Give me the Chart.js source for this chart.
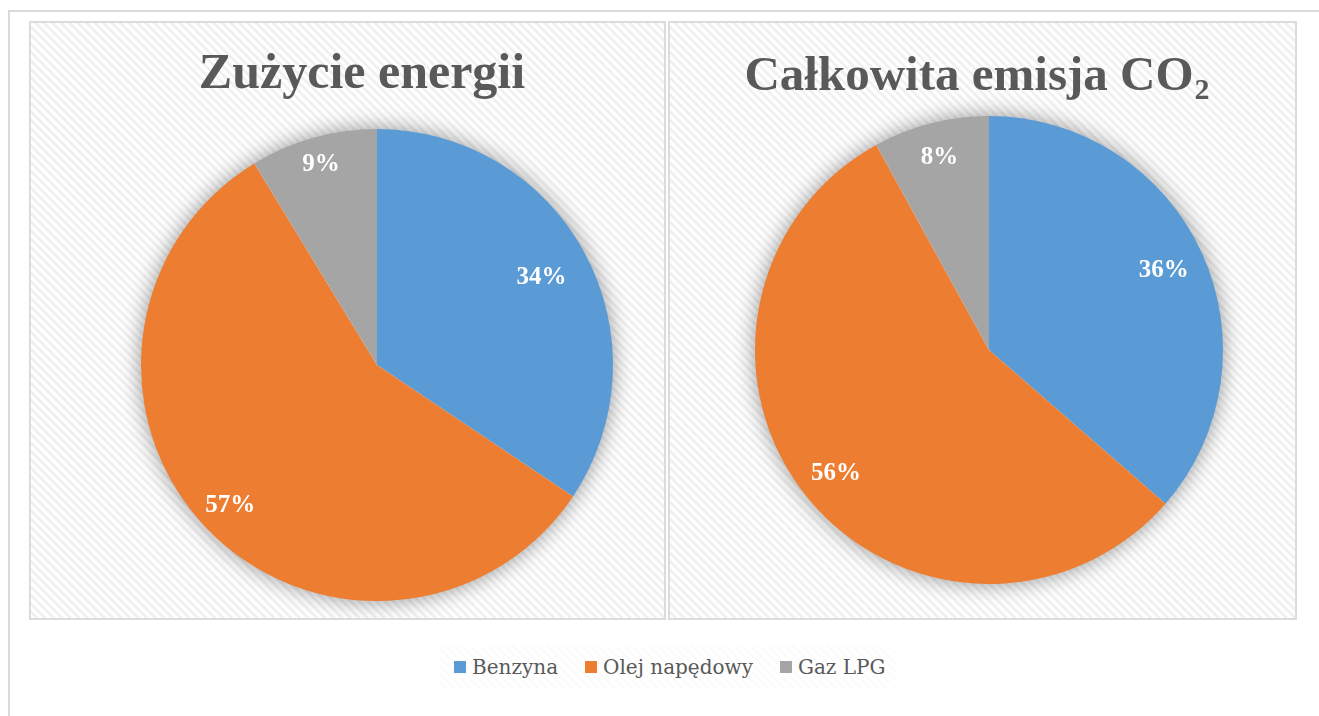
<!DOCTYPE html>
<html>
<head>
<meta charset="utf-8">
<script src="https://cdn.jsdelivr.net/npm/chart.js@4.4.1/dist/chart.umd.min.js"></script>
<style>
  html, body { margin: 0; padding: 0; background: #fff; }
  body { width: 1319px; height: 716px; position: relative; overflow: hidden; }
  .frame {
    position: absolute; left: 8px; top: 10px; width: 1311px; height: 706px;
    border-top: 2px solid #dadada; border-left: 2px solid #dadada; box-sizing: border-box;
  }
  .panel {
    position: absolute; top: 21px; height: 599px; box-sizing: border-box;
    border: 2px solid #dcdcdc;
    background: repeating-linear-gradient(45deg, #ffffff 0px, #ffffff 2px, #efefef 3.5px, #efefef 4.5px, #ffffff 6px);
  }
  #panel1 { left: 29px; width: 637px; }
  #panel2 { left: 668px; width: 629px; }
  .panel canvas { position: absolute; left: 0; top: 0; }
  .legend {
    position: absolute; left: 440px; top: 645px; width: 455px; height: 44px;
    display: flex; align-items: center; padding-left: 14px; box-sizing: border-box;
    font-family: "DejaVu Serif", serif; font-size: 20px; color: #595959; white-space: nowrap;
    background: repeating-linear-gradient(45deg, #ffffff 0px, #ffffff 3px, #fafafa 4px, #ffffff 6px);
  }
  .legend span.item { display: flex; align-items: center; margin-right: 27px; }
  .legend span.box { width: 12px; height: 12px; margin-right: 6px; display: inline-block; }
</style>
</head>
<body>
<div class="frame"></div>
<div class="panel" id="panel1"><canvas id="energy-chart"></canvas></div>
<div class="panel" id="panel2"><canvas id="co2-chart"></canvas></div>
<div class="legend" id="legend"></div>

<script>
// data (percent shares)
const categories = ['Benzyna', 'Olej napędowy', 'Gaz LPG'];
const energyValues = [34.4, 56.9, 8.7];
const co2Values = [36.4, 55.6, 8.0];
const titles = ['Zużycie energii', 'Całkowita emisja CO₂'];

const sliceColors = ['#5B9BD5', '#ED7D31', '#A5A5A5'];

// shadow under the pie, white % labels and the title
const pieExtras = {
  id: 'pieExtras',
  beforeDatasetsDraw(chart) {
    const arc = chart.getDatasetMeta(0).data[0];
    const ctx = chart.ctx;
    ctx.save();
    ctx.shadowColor = 'rgba(0,0,0,0.45)';
    ctx.shadowBlur = 22;
    ctx.fillStyle = '#ffffff';
    ctx.beginPath();
    ctx.arc(arc.x, arc.y, arc.outerRadius - 1, 0, Math.PI * 2);
    ctx.fill();
    ctx.restore();
  },
  afterDatasetsDraw(chart, args, opts) {
    const ctx = chart.ctx;
    const values = chart.data.datasets[0].data;
    const total = values.reduce((a, b) => a + b, 0);
    ctx.save();
    ctx.fillStyle = '#ffffff';
    ctx.font = 'bold 25px "Liberation Serif"';
    ctx.textAlign = 'center';
    ctx.textBaseline = 'middle';
    chart.getDatasetMeta(0).data.forEach((arc, i) => {
      const mid = (arc.startAngle + arc.endAngle) / 2;
      const d = arc.outerRadius * opts.labelPos[i];
      const txt = Math.round(values[i] / total * 100) + '%';
      ctx.fillText(txt, arc.x + Math.cos(mid) * d, arc.y + Math.sin(mid) * d);
    });
    ctx.restore();
  },
  afterDraw(chart, args, opts) {
    const ctx = chart.ctx;
    let main = opts.text, sub = '';
    if (main.endsWith('₂')) { main = main.slice(0, -1); sub = '2'; }
    ctx.save();
    ctx.fillStyle = '#595959';
    ctx.textBaseline = 'alphabetic';
    ctx.textAlign = 'left';
    ctx.font = 'bold ' + opts.size + 'px "Liberation Serif"';
    const w1 = ctx.measureText(main).width;
    ctx.font = 'bold 30px "Liberation Serif"';
    const w2 = sub ? ctx.measureText(sub).width + 1 : 0;
    const x0 = opts.x - (w1 + w2) / 2;
    ctx.font = 'bold ' + opts.size + 'px "Liberation Serif"';
    ctx.fillText(main, x0, opts.y);
    if (sub) {
      ctx.font = 'bold 30px "Liberation Serif"';
      ctx.fillText(sub, x0 + w1 + 1, opts.y + 9);
    }
    ctx.restore();
  }
};

function makePie(canvasId, values, title, padding, titlePos, labelPos) {
  return new Chart(document.getElementById(canvasId), {
    type: 'pie',
    data: {
      labels: categories,
      datasets: [{
        data: values,
        backgroundColor: sliceColors,
        borderWidth: 0
      }]
    },
    options: {
      responsive: true,
      maintainAspectRatio: false,
      animation: false,
      layout: { padding: padding },
      plugins: {
        legend: { display: false },
        tooltip: { enabled: false },
        pieExtras: { text: title, x: titlePos[0], y: titlePos[1], size: titlePos[2], labelPos: labelPos }
      }
    },
    plugins: [pieExtras]
  });
}

let energyChart = makePie('energy-chart', energyValues, titles[0],
  { left: 110, right: 51, top: 106, bottom: 17 }, [331, 65, 50], [0.79, 0.86, 0.88]);

let co2Chart = makePie('co2-chart', co2Values, titles[1],
  { left: 85, right: 72, top: 93, bottom: 34 }, [307, 67, 49], [0.82, 0.84, 0.85]);

// legend below the two panels
const legend = document.getElementById('legend');
categories.forEach((name, i) => {
  legend.innerHTML += "<span class='item'><span class='box' style='background:" + sliceColors[i] + "'></span>" + name + "</span>";
});
</script>
</body>
</html>
